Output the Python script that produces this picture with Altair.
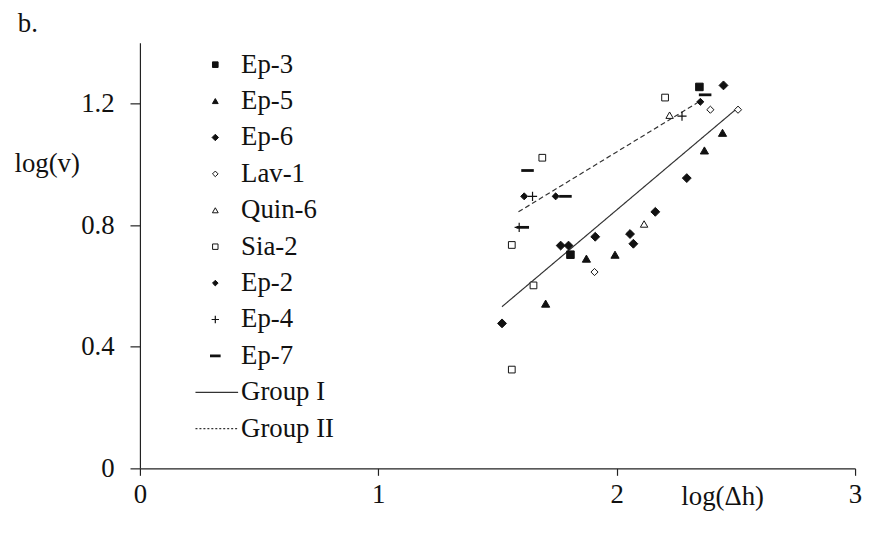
import altair as alt
import pandas as pd

# ---------------- data ----------------
series_names = ["Ep-3", "Ep-5", "Ep-6", "Lav-1", "Quin-6", "Sia-2", "Ep-2", "Ep-4", "Ep-7"]
group_names = ["Group I", "Group II"]

ep3_x = [2.347, 1.806]
ep3_y = [1.255, 0.703]
ep5_x = [2.444, 2.368, 1.873, 1.993, 1.702]
ep5_y = [1.104, 1.046, 0.690, 0.703, 0.542]
ep6_x = [2.448, 2.294, 2.162, 2.056, 2.070, 1.910, 1.519, 1.765, 1.798]
ep6_y = [1.260, 0.955, 0.844, 0.771, 0.739, 0.762, 0.477, 0.733, 0.733]
lav1_x = [2.393, 2.509, 1.907]
lav1_y = [1.180, 1.180, 0.646]
quin6_x = [2.222, 2.115]
quin6_y = [1.162, 0.804]
sia2_x = [1.688, 2.203, 1.560, 1.651, 1.560]
sia2_y = [1.022, 1.220, 0.735, 0.602, 0.325]
ep2_x = [1.612, 1.744, 2.351]
ep2_y = [0.895, 0.895, 1.206]
ep4_x = [1.647, 2.274, 1.591]
ep4_y = [0.895, 1.159, 0.793]
ep7_x = [1.626, 1.785, 2.371, 1.606]
ep7_y = [0.980, 0.895, 1.229, 0.793]

group1_x = [1.519, 2.509]
group1_y = [0.532, 1.187]
group2_x = [1.588, 2.351]
group2_y = [0.844, 1.209]

x_ticks = [0, 1, 2, 3]
y_ticks = [0, 0.4, 0.8, 1.2]

# ---------------- tables ----------------
series_xy = [
    (ep3_x, ep3_y), (ep5_x, ep5_y), (ep6_x, ep6_y), (lav1_x, lav1_y),
    (quin6_x, quin6_y), (sia2_x, sia2_y), (ep2_x, ep2_y), (ep4_x, ep4_y), (ep7_x, ep7_y),
]
rows = []
for name, (xs_, ys_) in zip(series_names, series_xy):
    for a, b in zip(xs_, ys_):
        rows.append({"series": name, "x": a, "y": b})
pts = pd.DataFrame(rows)

lrows = []
for name, (xs_, ys_) in zip(group_names, [(group1_x, group1_y), (group2_x, group2_y)]):
    for a, b in zip(xs_, ys_):
        lrows.append({"group": name, "x": a, "y": b})
lines = pd.DataFrame(lrows)

all_names = series_names + group_names
leg = pd.DataFrame({"name": all_names, "idx": list(range(len(all_names)))})
leg_sym = leg[leg["name"].isin(series_names)]
leg_line = leg[leg["name"].isin(group_names)]

# ---------------- styles ----------------
FONT = "'Liberation Serif', 'Times New Roman', 'DejaVu Serif', serif"
FS = 27
INK = "#111111"
PLUS = "M-1,0H1M0,-1V1"
DASH = "M-1,0H1"
shapes = ["square", "triangle-up", "diamond", "diamond", "triangle-up", "square", "diamond", PLUS, DASH]
fills = [INK, INK, INK, "white", "white", "white", INK, "transparent", "transparent"]
sizes = [58, 68, 80, 52, 56, 46, 50, 85, 160]
leg_sizes = [32, 34, 42, 32, 34, 30, 32, 55, 115]
widths = [1, 1, 1, 1, 1, 1, 1, 1.2, 2.8]

W, H = 721, 429
LEG_TOP, LEG_STEP = 22, 36.7
LEG_MX, LEG_TX = 76, 102
LINE_X0, LINE_X1 = 56, 99

xs = alt.Scale(domain=[0, 3], nice=False, zero=False)
ys = alt.Scale(domain=[0, 1.4], nice=False, zero=False)

shape_scale = alt.Scale(domain=series_names, range=shapes)
fill_scale = alt.Scale(domain=series_names, range=fills)
sw_scale = alt.Scale(type="ordinal", domain=series_names, range=widths)

x_axis = alt.Axis(
    values=x_ticks, format="d", title="log(Δh)", titleX=587, titleY=36,
    titleAlign="center", titleBaseline="alphabetic", titleFont=FONT, titleFontSize=FS,
    titleFontWeight="normal", titleColor=INK, labelFont=FONT, labelFontSize=FS,
    labelColor=INK, labelPadding=6, tickSize=7, labelFlush=False,
    domainColor="#222", tickColor="#222", domainWidth=1.2, tickWidth=1.2, grid=False,
)
y_axis = alt.Axis(
    values=y_ticks, format="~g", title="log(v)", titleAngle=0, titleX=-94, titleY=130,
    titleAlign="center", titleBaseline="alphabetic", titleFont=FONT, titleFontSize=FS,
    titleFontWeight="normal", titleColor=INK, labelFont=FONT, labelFontSize=FS,
    labelColor=INK, labelPadding=16, tickSize=10, labelFlush=False,
    domainColor="#222", tickColor="#222", domainWidth=1.2, tickWidth=1.2, grid=False,
)

data_lines = alt.Chart(lines).mark_line(color="#333", strokeWidth=1.2).encode(
    x=alt.X("x:Q", scale=xs, axis=x_axis),
    y=alt.Y("y:Q", scale=ys, axis=y_axis),
    detail="group:N",
    strokeDash=alt.StrokeDash("group:N", scale=alt.Scale(domain=group_names, range=[[1, 0], [5, 3]]), legend=None),
)

points = alt.Chart(pts).mark_point(stroke=INK, opacity=1, fillOpacity=1, strokeOpacity=1).encode(
    x=alt.X("x:Q", scale=xs),
    y=alt.Y("y:Q", scale=ys),
    shape=alt.Shape("series:N", scale=shape_scale, legend=None),
    fill=alt.Fill("series:N", scale=fill_scale, legend=None),
    size=alt.Size("series:N", scale=alt.Scale(type="ordinal", domain=series_names, range=sizes), legend=None),
    strokeWidth=alt.StrokeWidth("series:N", scale=sw_scale, legend=None),
)

legend_syms = alt.Chart(leg_sym).transform_calculate(
    ly=f"{LEG_TOP} + datum.idx * {LEG_STEP}"
).mark_point(stroke=INK, opacity=1, fillOpacity=1, strokeOpacity=1).encode(
    x=alt.value(LEG_MX),
    y=alt.Y("ly:Q", scale=None, axis=None),
    shape=alt.Shape("name:N", scale=shape_scale, legend=None),
    fill=alt.Fill("name:N", scale=fill_scale, legend=None),
    size=alt.Size("name:N", scale=alt.Scale(type="ordinal", domain=series_names, range=leg_sizes), legend=None),
    strokeWidth=alt.StrokeWidth("name:N", scale=sw_scale, legend=None),
)

legend_lines = alt.Chart(leg_line).transform_calculate(
    ly=f"{LEG_TOP} + datum.idx * {LEG_STEP}"
).mark_rule(color="#333", strokeWidth=1.2).encode(
    x=alt.value(LINE_X0), x2=alt.value(LINE_X1),
    y=alt.Y("ly:Q", scale=None, axis=None),
    strokeDash=alt.StrokeDash("name:N", scale=alt.Scale(domain=group_names, range=[[1, 0], [2, 2]]), legend=None),
)

legend_text = alt.Chart(leg).transform_calculate(
    ly=f"{LEG_TOP} + datum.idx * {LEG_STEP}"
).mark_text(align="left", baseline="middle", font=FONT, fontSize=FS, color=INK).encode(
    x=alt.value(LEG_TX),
    y=alt.Y("ly:Q", scale=None, axis=None),
    text="name:N",
)

panel_label = alt.Chart(pd.DataFrame({"t": ["b."]})).mark_text(
    align="center", baseline="middle", font=FONT, fontSize=FS, color=INK
).encode(x=alt.value(-113), y=alt.value(-19), text="t:N")

chart = alt.layer(
    data_lines, points, legend_lines, legend_syms, legend_text, panel_label
).resolve_scale(
    size="independent", strokeDash="independent"
).properties(
    width=W, height=H,
    autosize=alt.AutoSizeParams(type="none"),
    padding={"left": 133, "top": 33, "right": 8, "bottom": 60},
).configure_view(stroke=None)

chart.save("out.html", embed_options={"renderer": "svg", "actions": False})
